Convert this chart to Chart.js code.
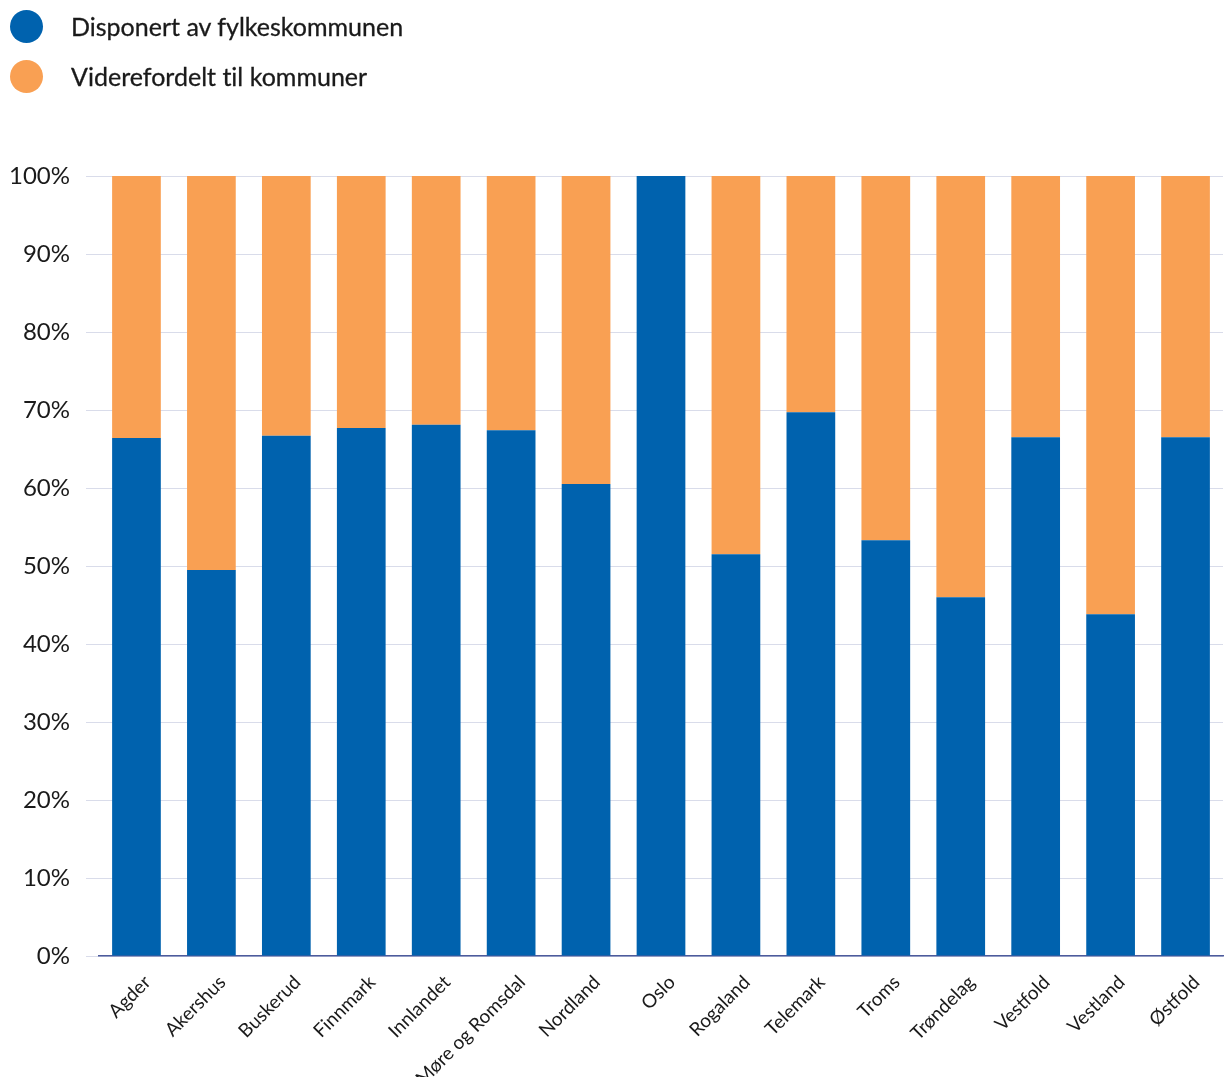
<!DOCTYPE html>
<html>
<head>
<meta charset="utf-8">
<script src="https://cdn.jsdelivr.net/npm/chart.js@4/dist/chart.umd.min.js"></script>
<style>
  html, body { margin: 0; padding: 0; background: #fff; overflow: hidden; }
  #wrap { position: relative; width: 1224px; height: 1077px; }
  #myChart { position: absolute; left: 0; top: 0; }
  .legend { position: absolute; left: 0; top: 0; font-family: Lato, sans-serif; font-size: 25px; color: #1a1a1a; z-index: 2; -webkit-text-stroke: 0.3px #1a1a1a; font-variant-ligatures: none; }
  .legend-item { position: absolute; left: 10px; white-space: nowrap; height: 34px; line-height: 34px; }
  .legend-item .dot { position: absolute; left: 0; top: 0; width: 33px; height: 33px; border-radius: 50%; }
  .legend-item span { position: absolute; left: 61px; top: -1px; }
</style>
</head>
<body>
<div id="wrap">
  <canvas id="myChart" width="1224" height="1077"></canvas>
  <div class="legend" id="legend"></div>
</div>
<script>
const categories = ['Agder', 'Akershus', 'Buskerud', 'Finnmark', 'Innlandet', 'Møre og Romsdal', 'Nordland', 'Oslo', 'Rogaland', 'Telemark', 'Troms', 'Trøndelag', 'Vestfold', 'Vestland', 'Østfold'];
const disponert = [66.4, 49.5, 66.7, 67.7, 68.1, 67.4, 60.5, 100, 51.5, 69.7, 53.3, 46.0, 66.5, 43.8, 66.5];
const viderefordelt = [33.6, 50.5, 33.3, 32.3, 31.9, 32.6, 39.5, 0, 48.5, 30.3, 46.7, 54.0, 33.5, 56.2, 33.5];
const seriesNames = ['Disponert av fylkeskommunen', 'Viderefordelt til kommuner'];
const seriesColors = ['#0062ae', '#f9a053'];

// legend drawn as html, stacked vertically
const legendEl = document.getElementById('legend');
seriesNames.forEach((name, i) => {
  const item = document.createElement('div');
  item.className = 'legend-item';
  item.style.top = (10 + i * 50) + 'px';
  item.innerHTML = '<div class="dot" style="background:' + seriesColors[i] + '"></div><span>' + name + '</span>';
  legendEl.appendChild(item);
});

const ctx = document.getElementById('myChart').getContext('2d');
let myChart = new Chart(ctx, {
  type: 'bar',
  data: {
    labels: categories,
    datasets: [
      { label: seriesNames[0], data: disponert, backgroundColor: seriesColors[0], borderWidth: 0 },
      { label: seriesNames[1], data: viderefordelt, backgroundColor: seriesColors[1], borderWidth: 0 }
    ]
  },
  options: {
    responsive: false,
    animation: false,
    layout: { padding: { top: 176, right: 1, left: 0, bottom: 0 } },
    datasets: { bar: { categoryPercentage: 1, barPercentage: 0.65 } },
    plugins: { legend: { display: false }, tooltip: { enabled: false } },
    scales: {
      x: {
        stacked: true,
        grid: { display: false },
        border: { color: '#4d5b9c', width: 1.5 },
        ticks: {
          minRotation: 45, maxRotation: 45, autoSkip: false,
          padding: 7, labelOffset: 11,
          color: '#1a1a1a', font: { family: 'Lato', size: 19 }
        },
        afterFit: scale => { scale.height = 121; }
      },
      y: {
        stacked: true,
        min: 0, max: 100,
        grid: { color: '#d9dcea', lineWidth: 1, tickLength: 13 },
        border: { display: false },
        ticks: {
          stepSize: 10, padding: 16,
          color: '#1a1a1a', font: { family: 'Lato', size: 24 },
          callback: v => v + '%'
        },
        afterFit: scale => { scale.width = 99; }
      }
    }
  }
});
</script>
</body>
</html>
